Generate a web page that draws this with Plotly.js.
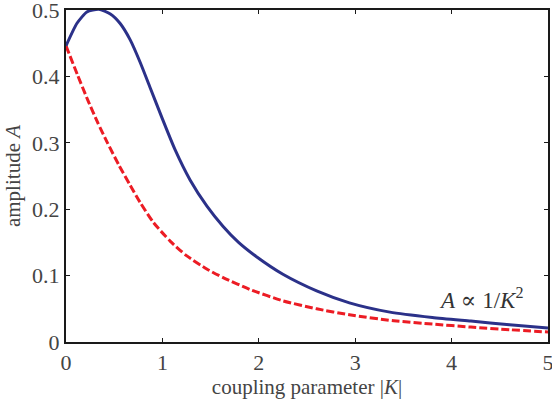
<!DOCTYPE html>
<html>
<head>
<meta charset="utf-8">
<script src="https://cdn.plot.ly/plotly-3.0.1.min.js"></script>
<style>html,body{margin:0;padding:0;background:#fff;}#chart{width:552px;height:403px;}</style>
</head>
<body>
<div id="chart"></div>
<script>
// Blue solid curve
const blueK = [0, 0.114, 0.217, 0.34, 0.46, 0.56, 0.666, 0.77, 0.873, 1.0, 1.13, 1.287, 1.46, 1.63, 1.79, 1.98, 2.25, 2.6, 2.94, 3.36, 3.8, 4.2, 4.6, 5.0];
const blueA = [0.446, 0.480, 0.497, 0.501, 0.494, 0.480, 0.455, 0.421, 0.383, 0.336, 0.290, 0.244, 0.205, 0.174, 0.150, 0.128, 0.102, 0.077, 0.059, 0.045, 0.037, 0.0315, 0.026, 0.021];
// Red dashed curve
const redK = [0, 0.12, 0.224, 0.327, 0.43, 0.55, 0.666, 0.77, 0.907, 1.08, 1.25, 1.46, 1.63, 1.91, 2.25, 2.6, 2.94, 3.4, 3.8, 4.2, 4.6, 5.0];
const redA = [0.446, 0.402, 0.365, 0.331, 0.300, 0.266, 0.236, 0.210, 0.180, 0.152, 0.130, 0.110, 0.097, 0.079, 0.062, 0.050, 0.041, 0.032, 0.027, 0.0225, 0.0185, 0.015];
// Ticks
const xTicks = [0, 1, 2, 3, 4, 5];
const yTicks = [0, 0.1, 0.2, 0.3, 0.4, 0.5];
const yTickText = ['0', '0.1', '0.2', '0.3', '0.4', '0.5'];
const noteText = '<i>A</i> ∝ 1/<i>K</i><sup>2</sup>';
const noteK = 4.3, noteA = 0.066;

const font = 'Liberation Serif, DejaVu Serif, serif';
const traces = [
  {x: redK, y: redA, mode: 'lines', line: {color: '#ec1c24', width: 3, dash: '8px,3px', shape: 'spline', smoothing: 0.6}, hoverinfo: 'skip'},
  {x: blueK, y: blueA, mode: 'lines', line: {color: '#2b3189', width: 3, shape: 'spline', smoothing: 0.6}, hoverinfo: 'skip'}
];
const axisCommon = {
  showgrid: false, zeroline: false, showline: true, linecolor: '#1a1a1a', linewidth: 2,
  mirror: 'ticks', ticks: 'inside', ticklen: 4, tickwidth: 1, tickcolor: '#1a1a1a',
  ticklabeloverflow: 'allow',
  tickfont: {family: font, size: 22, color: '#444'}
};
const layout = {
  width: 552, height: 403,
  margin: {l: 66, r: 4, t: 10, b: 61},
  paper_bgcolor: '#fff', plot_bgcolor: '#fff',
  showlegend: false,
  xaxis: Object.assign({}, axisCommon, {
    range: [0, 5], tickvals: xTicks, ticktext: xTicks.map(String),
    title: {text: 'coupling parameter |<i>K</i>|', font: {family: font, size: 21, color: '#444'}, standoff: 4}
  }),
  yaxis: Object.assign({}, axisCommon, {
    range: [0, 0.5], tickvals: yTicks, ticktext: yTickText,
    title: {text: 'amplitude <i>A</i>', font: {family: font, size: 21, color: '#444'}, standoff: 6}
  }),
  annotations: [{x: noteK, y: noteA, xref: 'x', yref: 'y', text: noteText, showarrow: false,
    font: {family: font, size: 23, color: '#333'}}]
};
Plotly.newPlot('chart', traces, layout, {staticPlot: true, displayModeBar: false});
</script>
</body>
</html>
